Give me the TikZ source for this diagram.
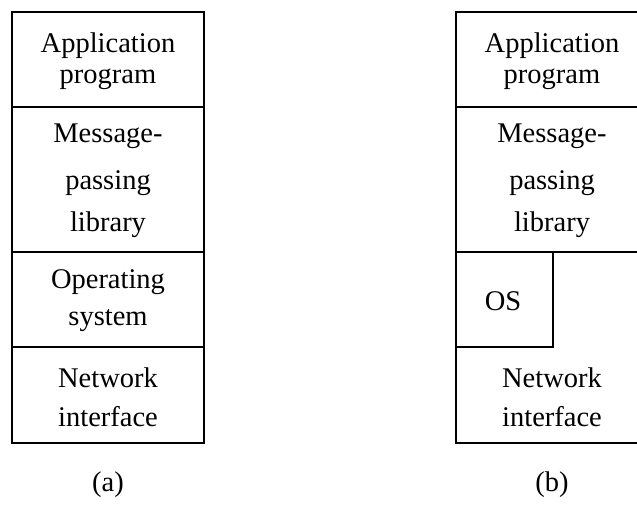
\documentclass[tikz,border=0pt]{standalone}
\usepackage{fontspec}
\setmainfont{Liberation Serif}
\begin{document}
\begin{tikzpicture}[x=1pt,y=-1pt,
  frame/.style={line width=1.2pt},
  word/.style={anchor=base,inner sep=0pt,font=\fontsize{28.5}{34}\selectfont}]
\useasboundingbox (0,0) rectangle (637,512);
\clip (0,0) rectangle (637,512);

% (a) four stacked layers
\draw[frame] (12,12) rectangle (204,443);
\foreach \yy in {107,252,347} \draw[frame] (12,\yy) -- (204,\yy);
\node[word] (a1) at (108,52) {Application};
\node[word] (a2) at (108,83) {program};
\node[word] (a3) at (108,142) {Message-};
\node[word] (a4) at (108,189) {passing};
\node[word] (a5) at (108,231) {library};
\node[word] (a6) at (108,288) {Operating};
\node[word] (a7) at (108,325) {system};
\node[word] (a8) at (108,387) {Network};
\node[word] (a9) at (108,426) {interface};
\node[word] (la) at (108,491) {(a)};

% (b) library talks to the interface directly, OS off to one side
\draw[frame] (456,12) rectangle (648,443);
\foreach \yy in {107,252} \draw[frame] (456,\yy) -- (648,\yy);
\draw[frame] (456,252) rectangle (553,347);
\node[word] (b1) at (552,52) {Application};
\node[word] (b2) at (552,83) {program};
\node[word] (b3) at (552,142) {Message-};
\node[word] (b4) at (552,189) {passing};
\node[word] (b5) at (552,231) {library};
\node[word] (b6) at (503,310) {OS};
\node[word] (b7) at (552,387) {Network};
\node[word] (b8) at (552,426) {interface};
\node[word] (lb) at (552,491) {(b)};
\end{tikzpicture}
\end{document}
